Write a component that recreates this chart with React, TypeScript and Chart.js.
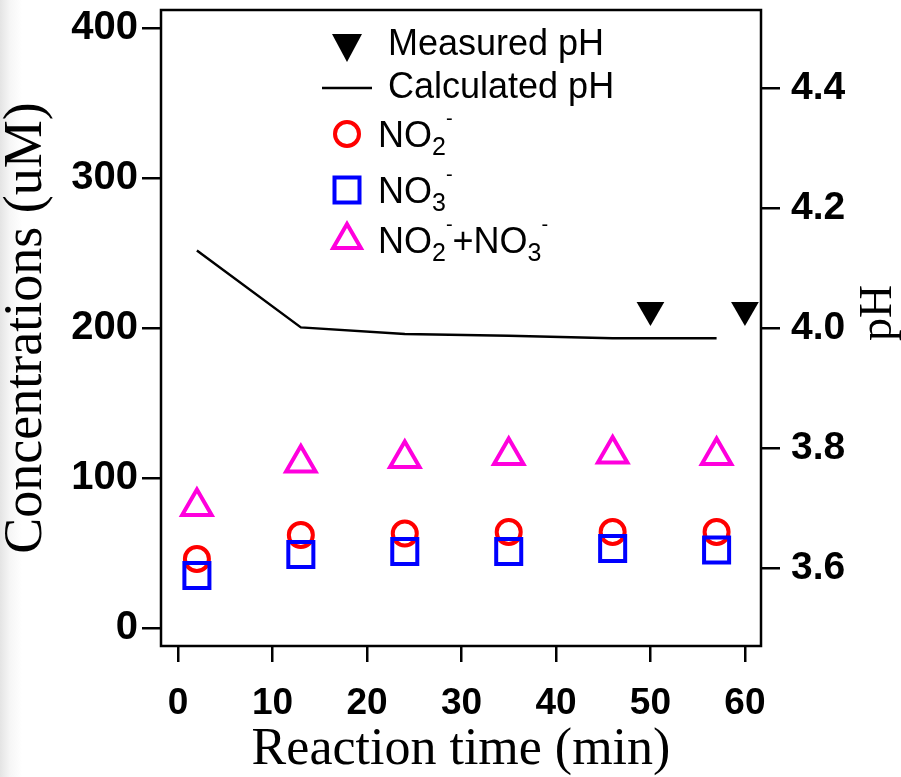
import React, { useEffect, useRef } from 'react';
import { Chart, registerables } from 'chart.js';

Chart.register(...registerables);

// ---- data ----
const sampleTimes = [2, 13, 24, 35, 46, 57];
const calculatedPH = [4.129, 4.001, 3.99, 3.987, 3.983, 3.983];
const measuredTimes = [50, 60];
const measuredPH = [4.03, 4.03];
const nitrite = [46, 62, 63, 64, 64, 64];
const nitrate = [35, 49, 51, 51, 53, 52];
const nitriteNitrate = [81, 110, 113, 115, 116, 115];

const timeTicks = [0, 10, 20, 30, 40, 50, 60];
const concTicks = [0, 100, 200, 300, 400];
const phTicks = [3.6, 3.8, 4.0, 4.2, 4.4];

const legendLabels = ['Measured pH', 'Calculated pH', 'NO₂⁻', 'NO₃⁻', 'NO₂⁻+NO₃⁻'];
const xTitle = 'Reaction time (min)';
const yTitle = 'Concentrations (uM)';
const y1Title = 'pH';

const SANS = '"Liberation Sans", Arial, Helvetica, sans-serif';
const SERIF = '"Liberation Serif", "Times New Roman", Times, serif';
const MAGENTA = '#ff00dd';

const toXY = (xs: number[], ys: number[]) => xs.map((x, i) => ({ x, y: ys[i] }));

function drawRich(ctx: CanvasRenderingContext2D, text: string, x: number, baseline: number, size: number) {
  let cx = x;
  let buf = '';
  const flush = () => {
    if (!buf) return;
    ctx.font = `${size}px ${SANS}`;
    ctx.fillText(buf, cx, baseline);
    cx += ctx.measureText(buf).width;
    buf = '';
  };
  for (const ch of text) {
    const sub = '₀₁₂₃₄₅₆₇₈₉'.indexOf(ch);
    if (sub >= 0) {
      flush();
      ctx.font = `${Math.round(size * 0.7)}px ${SANS}`;
      const s = String(sub);
      ctx.fillText(s, cx, baseline + size * 0.22);
      cx += ctx.measureText(s).width;
    } else if (ch === '⁻') {
      flush();
      ctx.font = `${Math.round(size * 0.56)}px ${SANS}`;
      ctx.fillText('-', cx, baseline - size * 0.6);
      cx += ctx.measureText('-').width;
    } else {
      buf += ch;
    }
  }
  flush();
}

const zeroPad = (s: any) => {
  s.paddingTop = 0;
  s.paddingBottom = 0;
  s.paddingLeft = 0;
  s.paddingRight = 0;
};

const decorPlugin = {
  id: 'decor',
  beforeDatasetsDraw(chart: any) {
    const { ctx, chartArea: a } = chart;
    ctx.save();
    ctx.strokeStyle = '#000';
    ctx.lineWidth = 2.5;
    ctx.strokeRect(a.left, a.top, a.right - a.left, a.bottom - a.top);
    ctx.restore();
  },
  afterDraw(chart: any) {
    const { ctx, chartArea: a } = chart;
    ctx.save();
    // right axis title, reading bottom to top
    ctx.fillStyle = '#000';
    ctx.font = `46px ${SERIF}`;
    ctx.textAlign = 'center';
    ctx.textBaseline = 'middle';
    ctx.translate(a.right + 118, a.top + 303);
    ctx.rotate(-Math.PI / 2);
    ctx.fillText(y1Title, 0, 0);
    ctx.restore();

    // legend
    ctx.save();
    const mx = a.left + 186;
    ctx.textAlign = 'left';
    ctx.textBaseline = 'alphabetic';
    ctx.fillStyle = '#000';
    // row 1: measured pH (filled down triangle)
    const cy = a.top + 38;
    ctx.beginPath();
    ctx.moveTo(mx - 15, cy - 14);
    ctx.lineTo(mx + 15, cy - 14);
    ctx.lineTo(mx, cy + 14);
    ctx.closePath();
    ctx.fill();
    drawRich(ctx, legendLabels[0], a.left + 227, a.top + 45, 36);
    // row 2: calculated pH (line)
    ctx.strokeStyle = '#000';
    ctx.lineWidth = 2.5;
    ctx.beginPath();
    ctx.moveTo(a.left + 161, a.top + 78);
    ctx.lineTo(a.left + 211, a.top + 78);
    ctx.stroke();
    ctx.fillStyle = '#000';
    drawRich(ctx, legendLabels[1], a.left + 227, a.top + 88, 36);
    // row 3: NO2- circle
    ctx.lineWidth = 4;
    ctx.strokeStyle = '#ff0000';
    ctx.beginPath();
    ctx.arc(mx, a.top + 124, 12, 0, Math.PI * 2);
    ctx.stroke();
    ctx.fillStyle = '#000';
    drawRich(ctx, legendLabels[2], a.left + 217, a.top + 137, 36);
    // row 4: NO3- square
    ctx.strokeStyle = '#0000ff';
    ctx.strokeRect(mx - 12.5, a.top + 180 - 12.5, 25, 25);
    drawRich(ctx, legendLabels[3], a.left + 217, a.top + 193, 36);
    // row 5: sum triangle
    ctx.strokeStyle = MAGENTA;
    ctx.lineJoin = 'miter';
    const r = 16;
    const ty = a.top + 230;
    ctx.beginPath();
    ctx.moveTo(mx, ty - r);
    ctx.lineTo(mx + r * Math.sin((2 * Math.PI) / 3), ty + r / 2);
    ctx.lineTo(mx - r * Math.sin((2 * Math.PI) / 3), ty + r / 2);
    ctx.closePath();
    ctx.stroke();
    drawRich(ctx, legendLabels[4], a.left + 217, a.top + 243, 36);
    ctx.restore();
  },
};

export default function App() {
  const ref = useRef<HTMLCanvasElement | null>(null);

  useEffect(() => {
    if (!ref.current) return;
    const tickFont = (size: number) => ({ family: SANS, size, weight: 'bold' as const });
    const chart = new Chart(ref.current, {
      type: 'scatter',
      data: {
        datasets: [
          {
            label: legendLabels[0],
            data: toXY(measuredTimes, measuredPH),
            yAxisID: 'y1',
            pointStyle: 'triangle',
            rotation: 180,
            pointRadius: 16,
            backgroundColor: '#000',
            borderColor: '#000',
            borderWidth: 0,
            order: 0,
          },
          {
            label: legendLabels[1],
            data: toXY(sampleTimes, calculatedPH),
            yAxisID: 'y1',
            showLine: true,
            borderColor: '#000',
            borderWidth: 2.5,
            pointRadius: 0,
            tension: 0,
            order: 5,
          },
          {
            label: legendLabels[2],
            data: toXY(sampleTimes, nitrite),
            yAxisID: 'y',
            pointStyle: 'circle',
            pointRadius: 12,
            borderWidth: 4,
            borderColor: '#ff0000',
            backgroundColor: 'rgba(0,0,0,0)',
            order: 3,
          },
          {
            label: legendLabels[3],
            data: toXY(sampleTimes, nitrate),
            yAxisID: 'y',
            pointStyle: 'rect',
            pointRadius: 17.7,
            borderWidth: 4,
            borderColor: '#0000ff',
            backgroundColor: 'rgba(0,0,0,0)',
            order: 2,
          },
          {
            label: legendLabels[4],
            data: toXY(sampleTimes, nitriteNitrate),
            yAxisID: 'y',
            pointStyle: 'triangle',
            pointRadius: 17,
            borderWidth: 4,
            borderColor: MAGENTA,
            backgroundColor: 'rgba(0,0,0,0)',
            order: 4,
          },
        ],
      },
      options: {
        animation: false,
        responsive: true,
        maintainAspectRatio: false,
        layout: { autoPadding: false, padding: { top: 10, left: 0, right: 0, bottom: 0 } },
        plugins: { legend: { display: false }, tooltip: { enabled: false } },
        scales: {
          x: {
            type: 'linear',
            position: 'bottom',
            min: -1.8,
            max: 61.7,
            afterBuildTicks: (s: any) => {
              s.ticks = timeTicks.map((v) => ({ value: v }));
            },
            afterFit: (s: any) => {
              s.height = 131;
              zeroPad(s);
            },
            border: { display: false },
            grid: { drawOnChartArea: false, drawTicks: true, tickLength: 16, color: '#000', lineWidth: 2.5 },
            ticks: { font: tickFont(37), color: '#000', padding: 20, maxRotation: 0, autoSkip: false },
            title: {
              display: true,
              text: xTitle,
              color: '#000',
              font: { family: SERIF, size: 52, lineHeight: 1 },
              padding: { top: 0, bottom: 1 },
            },
          },
          y: {
            type: 'linear',
            position: 'left',
            min: -12,
            max: 412,
            afterBuildTicks: (s: any) => {
              s.ticks = concTicks.map((v) => ({ value: v }));
            },
            afterFit: (s: any) => {
              s.width = 161;
              zeroPad(s);
            },
            border: { display: false },
            grid: { drawOnChartArea: false, drawTicks: true, tickLength: 19, color: '#000', lineWidth: 2.5 },
            ticks: { font: tickFont(40), color: '#000', padding: 4, autoSkip: false },
            title: {
              display: true,
              text: yTitle,
              color: '#000',
              font: { family: SERIF, size: 54, lineHeight: 1 },
              padding: { top: 0, bottom: 0 },
            },
          },
          y1: {
            type: 'linear',
            position: 'right',
            min: 3.47,
            max: 4.53,
            afterBuildTicks: (s: any) => {
              s.ticks = phTicks.map((v) => ({ value: v }));
            },
            afterFit: (s: any) => {
              s.width = 140;
              zeroPad(s);
            },
            border: { display: false },
            grid: { drawOnChartArea: false, drawTicks: true, tickLength: 19, color: '#000', lineWidth: 2.5 },
            ticks: {
              font: tickFont(39),
              color: '#000',
              padding: 11,
              autoSkip: false,
              callback: (v: any) => Number(v).toFixed(1),
            },
            title: { display: false, text: y1Title },
          },
        },
      },
      plugins: [decorPlugin],
    } as any);
    return () => chart.destroy();
  }, []);

  return (
    <div
      style={{
        position: 'absolute',
        left: 0,
        top: 0,
        width: 901,
        height: 777,
        background: 'linear-gradient(to right, #e4e4e4 0px, #f6f6f6 10px, #ffffff 22px)',
      }}
    >
      <canvas ref={ref} style={{ display: 'block' }} />
    </div>
  );
}
